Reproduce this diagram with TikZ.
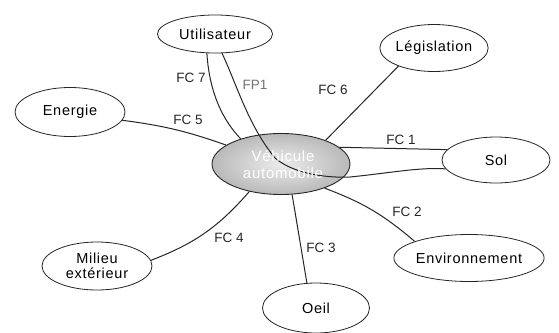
\documentclass[tikz,border=0pt]{standalone}
\usepackage{fontspec}
\setmainfont{Liberation Sans}
\newfontfamily\nodefont{Liberation Sans}[LetterSpace=5]
\usetikzlibrary{shapes.geometric}
\begin{document}
\begin{tikzpicture}[x=1pt,y=-1pt,
  elnode/.style={draw=black!85,line width=0.8pt,ellipse,inner sep=0pt,
    font=\nodefont\fontsize{14.5}{17}\selectfont,align=center},
  link/.style={draw=black!85,line width=1pt},
  lbl/.style={font=\fontsize{13.5}{15}\selectfont,text=black!85,inner sep=0pt}]
\useasboundingbox[fill=white] (0,0) rectangle (559,332);
% outer elements
\node[elnode,minimum width=115pt,minimum height=38pt] (util) at (215,34) {Utilisateur};
\node[elnode,minimum width=108pt,minimum height=47pt] (legis) at (434,48) {Législation};
\node[elnode,minimum width=110pt,minimum height=49pt] (energie) at (70,112) {Energie};
\node[elnode,minimum width=108pt,minimum height=46pt] (sol) at (496,160) {Sol};
\node[elnode,minimum width=132pt,minimum height=47pt] (env) at (469,258) {Environnement};
\node[elnode,minimum width=107pt,minimum height=50pt] (oeil) at (316,308) {Oeil};
\node[elnode,minimum width=110pt,minimum height=48pt] (milieu) at (97,266) {Milieu\\[-2pt]extérieur};
% central system
\node[ellipse,draw=black!85,line width=0.9pt,minimum width=138pt,minimum height=61pt,
  inner sep=0pt,shading=radial,inner color=gray!15,outer color=gray!55] (veh) at (281,164) {};
% connectors
\draw[link] (util.-113) .. controls (209,85) and (218,115) .. (veh.148);
\draw[link] (util.-70) .. controls (237,85) and (248,125) .. (275,158)
  .. controls (295,175) and (330,178) .. (350,177)
  .. controls (390,173) and (420,167) .. (sol.190);
\draw[link] (energie.-9) to[bend left=6] (veh.161);
\draw[link] (veh.28) -- (legis.207);
\draw[link] (veh.16) -- (sol.168);
\draw[link] (veh.-29) to[bend left=10] (env.163);
\draw[link] (veh.-70) -- (oeil.110);
\draw[link] (milieu.6) to[bend right=14] (veh.-139);
% central text on top
\node[font=\nodefont\fontsize{15}{18}\selectfont,text=white,align=center,inner sep=0pt] (vehtxt) at (283,165) {Véhicule\\[-1pt]automobile};
% labels
\node[lbl] (l7) at (191,78) {FC 7};
\node[lbl,text=black!55] (lp1) at (255,85) {FP1};
\node[lbl] (l5) at (188,120) {FC 5};
\node[lbl] (l6) at (333,90) {FC 6};
\node[lbl] (l1) at (401,140) {FC 1};
\node[lbl] (l2) at (407,212) {FC 2};
\node[lbl] (l3) at (321,248) {FC 3};
\node[lbl] (l4) at (229,238) {FC 4};
\end{tikzpicture}
\end{document}
